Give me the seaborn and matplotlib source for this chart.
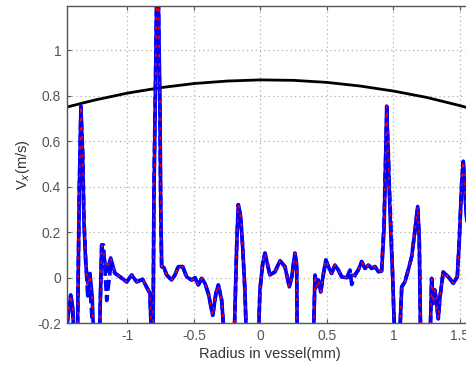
import matplotlib
matplotlib.use("Agg")
import matplotlib.pyplot as plt
import numpy as np
import pandas as pd
import seaborn as sns


# radius positions (mm) of the measured profile
radius = [
    -1.457, -1.438, -1.427, -1.412, -1.402, -1.377, -1.362, -1.350, -1.337, -1.327,
    -1.314, -1.299, -1.282, -1.265, -1.252, -1.212, -1.194, -1.180, -1.156, -1.126,
    -1.094, -1.056, -1.006, -0.968, -0.931, -0.886, -0.851, -0.831, -0.818, -0.808,
    -0.801, -0.780, -0.768, -0.756, -0.750, -0.743, -0.726, -0.705, -0.668, -0.643,
    -0.618, -0.585, -0.555, -0.517, -0.492, -0.468, -0.442, -0.417, -0.392, -0.359,
    -0.335, -0.317, -0.292, -0.267, -0.199, -0.179, -0.167, -0.149, -0.134, -0.117,
    -0.104, -0.017, -0.004, 0.017, 0.034, 0.071, 0.109, 0.147, 0.184, 0.217,
    0.235, 0.259, 0.272, 0.277, 0.397, 0.410, 0.423, 0.435, 0.453, 0.472,
    0.492, 0.510, 0.535, 0.560, 0.585, 0.611, 0.648, 0.673, 0.686, 0.711,
    0.735, 0.761, 0.786, 0.811, 0.836, 0.861, 0.886, 0.911, 0.929, 0.936,
    0.949, 0.961, 0.968, 0.979, 0.994, 1.011, 1.044, 1.062, 1.086, 1.111,
    1.137, 1.162, 1.182, 1.194, 1.205, 1.274, 1.287, 1.299, 1.312, 1.337,
    1.350, 1.374, 1.412, 1.450, 1.480, 1.495, 1.513, 1.525, 1.545, 1.575,
]

vx_solid = [
    -0.22, -0.128, -0.076, -0.128, -0.30, -0.30, 0.387, 0.754, 0.534, 0.240,
    0.063, -0.025, 0.019, -0.084, -0.30, -0.30, 0.144, 0.100, 0.027, 0.087,
    0.020, 0.004, -0.018, 0.012, -0.018, -0.007, -0.047, -0.069, -0.30, -0.30,
    0.343, 1.25, 1.25, 0.784, 0.343, 0.049, 0.045, 0.012, -0.010, 0.012,
    0.049, 0.049, 0.004, -0.010, 0.000, -0.032, -0.003, -0.025, -0.069, -0.165,
    -0.069, -0.032, -0.098, -0.30, -0.30, 0.137, 0.321, 0.269, 0.137, -0.054,
    -0.30, -0.30, -0.054, 0.063, 0.108, 0.012, 0.026, 0.075, 0.049, -0.040,
    0.004, 0.108, 0.060, -0.30, -0.30, 0.012, -0.040, -0.010, -0.062, 0.012,
    0.078, 0.049, 0.019, 0.056, 0.034, 0.004, 0.000, 0.005, 0.010, 0.012,
    0.034, 0.071, 0.041, 0.056, 0.041, 0.049, 0.026, 0.030, 0.210, 0.387,
    0.754, 0.534, 0.387, 0.210, 0.004, -0.30, -0.30, -0.040, -0.018, 0.034,
    0.093, 0.210, 0.313, 0.166, -0.30, -0.30, -0.003, -0.113, -0.054, -0.180,
    -0.084, 0.026, 0.004, -0.025, 0.004, 0.166, 0.416, 0.512, 0.300, 0.100,
]

vx_dashed = [
    -0.22, -0.128, -0.076, -0.128, -0.30, -0.30, 0.400, 0.740, 0.560, 0.260,
    0.080, -0.080, -0.030, -0.200, -0.30, -0.30, 0.144, 0.144, -0.100, 0.050,
    0.020, 0.004, -0.018, 0.012, -0.018, -0.007, -0.047, -0.069, -0.30, -0.30,
    0.400, 1.25, 1.25, 0.700, 0.300, 0.049, 0.045, 0.012, -0.010, 0.012,
    0.049, 0.049, 0.004, -0.010, 0.000, -0.032, -0.003, -0.025, -0.069, -0.165,
    -0.069, -0.032, -0.098, -0.30, -0.30, 0.137, 0.321, 0.269, 0.137, -0.054,
    -0.30, -0.30, -0.054, 0.063, 0.108, 0.012, 0.026, 0.075, 0.049, -0.040,
    0.004, 0.108, 0.060, -0.30, -0.30, 0.012, -0.040, -0.010, -0.062, 0.012,
    0.078, 0.049, 0.019, 0.056, 0.034, 0.004, 0.000, 0.034, -0.030, 0.012,
    0.034, 0.071, 0.041, 0.056, 0.041, 0.049, 0.026, 0.030, 0.250, 0.420,
    0.700, 0.560, 0.420, 0.250, 0.004, -0.30, -0.30, -0.040, -0.018, 0.034,
    0.093, 0.210, 0.313, 0.166, -0.30, -0.30, -0.003, -0.113, -0.054, -0.180,
    -0.084, 0.026, 0.004, -0.025, 0.004, 0.166, 0.416, 0.512, 0.300, 0.100,
]

vx_red = [
    -0.22, -0.128, -0.076, -0.128, -0.30, -0.30, 0.387, 0.754, 0.534, 0.240,
    0.063, -0.040, 0.010, -0.100, -0.30, -0.30, 0.144, 0.110, 0.040, 0.087,
    0.020, 0.004, -0.018, 0.012, -0.018, -0.007, -0.047, -0.069, -0.30, -0.30,
    0.343, 1.25, 1.25, 0.784, 0.343, 0.049, 0.045, 0.012, -0.010, 0.012,
    0.049, 0.049, 0.004, -0.010, 0.000, -0.032, -0.003, -0.025, -0.069, -0.165,
    -0.069, -0.032, -0.098, -0.30, -0.30, 0.137, 0.321, 0.269, 0.137, -0.054,
    -0.30, -0.30, -0.054, 0.063, 0.108, 0.012, 0.026, 0.075, 0.049, -0.040,
    0.004, 0.108, 0.060, -0.30, -0.30, 0.012, -0.040, -0.010, -0.062, 0.012,
    0.078, 0.049, 0.019, 0.056, 0.034, 0.004, 0.000, 0.012, 0.010, 0.012,
    0.034, 0.071, 0.041, 0.056, 0.041, 0.049, 0.026, 0.030, 0.210, 0.387,
    0.754, 0.534, 0.387, 0.210, 0.004, -0.30, -0.30, -0.040, -0.018, 0.034,
    0.093, 0.210, 0.313, 0.166, -0.30, -0.30, -0.003, -0.113, -0.054, -0.180,
    -0.084, 0.026, 0.004, -0.025, 0.004, 0.166, 0.416, 0.512, 0.300, 0.100,
]

# analytical (parabolic) profile
radius_theory = [-1.46, -1.25, -1.0, -0.75, -0.5, -0.25, 0.0, 0.25, 0.5, 0.75, 1.0, 1.25, 1.5, 1.6]
vx_theory = [0.749, 0.780, 0.811, 0.835, 0.853, 0.864, 0.869, 0.867, 0.858, 0.842, 0.820, 0.792, 0.756, 0.740]


def main():
    sns.set_theme(style="white")
    plt.rcParams["font.family"] = ["Liberation Sans", "DejaVu Sans"]

    fig = plt.figure(figsize=(4.66, 3.66), dpi=100)
    ax = fig.add_axes([0.1431, 0.1167, 0.8725, 0.8678])

    df = pd.DataFrame({"r": radius, "solid": vx_solid, "dashed": vx_dashed, "red": vx_red})
    th = pd.DataFrame({"r": radius_theory, "v": vx_theory})

    sns.lineplot(data=th, x="r", y="v", ax=ax, color="black", lw=2.0,
                 sort=False, estimator=None)
    sns.lineplot(data=df, x="r", y="dashed", ax=ax, color="#0000ff", lw=2.6,
                 linestyle=(0, (3.0, 1.2)), sort=False, estimator=None)
    sns.lineplot(data=df, x="r", y="solid", ax=ax, color="#0000ff", lw=2.6,
                 sort=False, estimator=None)
    sns.lineplot(data=df, x="r", y="red", ax=ax, color="#ff0000", lw=1.1,
                 linestyle=(0, (2.0, 4.0)), sort=False, estimator=None)

    ax.set_xlim(-1.457, 1.6)
    ax.set_ylim(-0.2, 1.195)
    ax.set_xticks([-1, -0.5, 0, 0.5, 1, 1.5])
    ax.set_xticklabels(["-1", "-0.5", "0", "0.5", "1", "1.5"])
    ax.set_yticks([-0.2, 0, 0.2, 0.4, 0.6, 0.8, 1])
    ax.set_yticklabels(["-0.2", "0", "0.2", "0.4", "0.6", "0.8", "1"])

    ax.grid(True, color="#b0b0b0", linestyle=(0, (1, 2.5)), lw=0.9)
    ax.tick_params(direction="in", length=3, width=0.8, colors="#555555",
                   labelsize=10, labelcolor="#555555", pad=4,
                   top=True, right=True, bottom=True, left=True)
    for s in ax.spines.values():
        s.set_color("#555555")
        s.set_linewidth(1.0)

    ax.set_xlabel("Radius in vessel(mm)", fontsize=10.5, color="#333333", labelpad=3)
    ax.set_ylabel("V$_x$(m/s)", fontsize=10.5, color="#333333", labelpad=4)

    fig.savefig("out.png", dpi=100)
    plt.close(fig)


if __name__ == "__main__":
    main()
